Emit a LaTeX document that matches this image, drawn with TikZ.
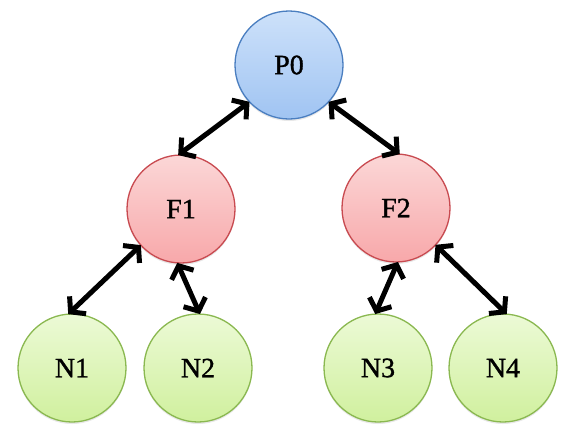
\documentclass[tikz,border=0pt]{standalone}
\usepackage{fontspec}
\usepackage{tikz}
\usetikzlibrary{arrows.meta,shadows}
\newfontfamily\labelfont[FakeBold=1.2]{Liberation Serif}

\definecolor{pzero}{RGB}{74,126,192}
\definecolor{ftier}{RGB}{200,74,80}
\definecolor{ntier}{RGB}{138,184,80}

\tikzset{
	proc/.style={circle, minimum size=108pt, inner sep=0pt, outer sep=0pt, line width=1.3pt,
		font=\labelfont\fontsize{28}{30}\selectfont,
		drop shadow={opacity=0.18, shadow xshift=0pt, shadow yshift=-2pt}},
	rootproc/.style={proc, draw=pzero, top color={rgb,255:red,205;green,225;blue,250}, bottom color={rgb,255:red,160;green,196;blue,242}},
	midproc/.style={proc, draw=ftier, top color={rgb,255:red,251;green,215;blue,215}, bottom color={rgb,255:red,248;green,168;blue,170}},
	leafproc/.style={proc, draw=ntier, top color={rgb,255:red,236;green,250;blue,214}, bottom color={rgb,255:red,208;green,240;blue,158}},
	link/.style={line width=5pt, {Straight Barb[length=10pt,width=24pt]}-{Straight Barb[length=10pt,width=24pt]}}
}

\begin{document}
\begin{tikzpicture}[x=1pt, y=-1pt]
		\useasboundingbox (0,0) rectangle (577,442);

		\node [rootproc] (p0) at (289, 65) {P0};
		\node [midproc] (f1) at (181, 209) {F1};
		\node [midproc] (f2) at (396, 208) {F2};
		\node [leafproc] (n1) at (72, 368) {N1};
		\node [leafproc] (n2) at (198, 368) {N2};
		\node [leafproc] (n3) at (378, 368) {N3};
		\node [leafproc] (n4) at (503, 368) {N4};

		\draw [link] (p0.223) -- (f1.93);
		\draw [link] (p0.317) -- (f2.86);
		\draw [link] (f1.222) -- (n1.94);
		\draw [link] (f1.266) -- (n2.88);
		\draw [link] (f2.272) -- (n3.93);
		\draw [link] (f2.317) -- (n4.86);

	\end{tikzpicture}
\end{document}
